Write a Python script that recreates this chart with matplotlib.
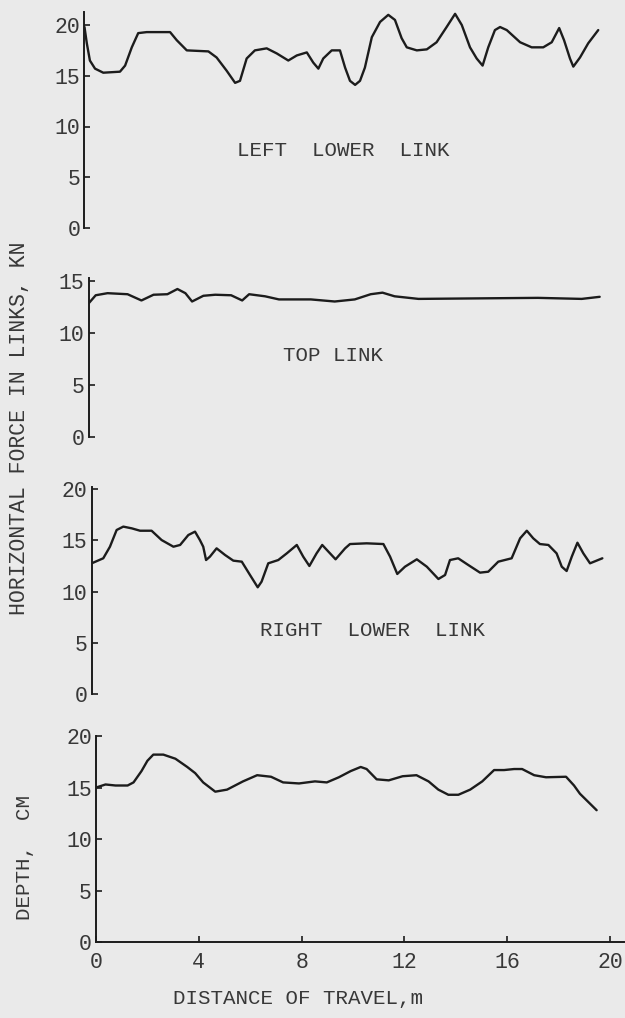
import matplotlib
matplotlib.use("Agg")
import matplotlib.pyplot as plt

# horizontal force in the left lower link, kN
left_x = [0, 0.09, 0.21, 0.41, 0.73, 1.38, 1.58, 1.84, 2.09, 2.42, 3.33, 3.59, 3.98, 4.82,
          5.14, 5.53, 5.86, 6.05, 6.31, 6.63, 7.09, 7.48, 7.93, 8.26, 8.65, 8.90, 9.10,
          9.29, 9.62, 9.94, 10.14, 10.33, 10.53, 10.72, 10.91, 11.18, 11.50, 11.82, 12.08,
          12.34, 12.54, 12.93, 13.32, 13.70, 14.09, 14.42, 14.68, 15.00, 15.26, 15.49,
          15.71, 15.97, 16.17, 16.43, 16.95, 17.40, 17.85, 18.18, 18.47, 18.66, 18.89,
          19.02, 19.28, 19.60, 19.99]
left_force = [19.8, 18.2, 16.5, 15.7, 15.3, 15.4, 16.0, 17.8, 19.2, 19.3, 19.3, 18.5, 17.5,
              17.4, 16.8, 15.5, 14.3, 14.5, 16.7, 17.5, 17.7, 17.2, 16.5, 17.0, 17.3, 16.3,
              15.7, 16.7, 17.5, 17.5, 15.8, 14.5, 14.1, 14.5, 15.8, 18.8, 20.3, 21.0, 20.5,
              18.7, 17.8, 17.5, 17.6, 18.3, 19.8, 21.1, 20.0, 17.8, 16.7, 16.0, 17.8, 19.5,
              19.8, 19.5, 18.3, 17.8, 17.8, 18.3, 19.7, 18.5, 16.7, 15.9, 16.8, 18.2, 19.5]

# top link
top_x = [0, 0.28, 0.74, 1.52, 2.06, 2.53, 3.07, 3.46, 3.77, 4.03, 4.47, 4.93, 5.55, 5.98,
         6.25, 6.87, 7.41, 8.65, 9.58, 10.36, 10.98, 11.44, 11.91, 12.84, 15.16, 17.49,
         19.19, 19.89]
top_force = [12.8, 13.6, 13.8, 13.7, 13.1, 13.65, 13.7, 14.2, 13.8, 13.0, 13.55, 13.65, 13.6,
             13.1, 13.7, 13.5, 13.2, 13.2, 13.0, 13.2, 13.7, 13.85, 13.5, 13.25, 13.3, 13.35,
             13.25, 13.45]

# right lower link
right_x = [0, 0.45, 0.71, 0.97, 1.23, 1.56, 1.88, 2.33, 2.72, 3.18, 3.44, 3.76, 4.02, 4.21,
           4.34, 4.45, 4.60, 4.86, 5.19, 5.51, 5.84, 6.16, 6.46, 6.61, 6.87, 7.26, 7.59,
           7.98, 8.23, 8.47, 8.75, 8.97, 9.21, 9.49, 9.86, 10.05, 10.70, 11.35, 11.61, 11.89,
           12.19, 12.65, 13.04, 13.49, 13.75, 13.94, 14.26, 14.65, 15.11, 15.43, 15.82,
           16.34, 16.67, 16.93, 17.18, 17.44, 17.77, 18.09, 18.29, 18.48, 18.68, 18.90,
           19.13, 19.39, 19.87]
right_force = [12.75, 13.24, 14.37, 16.0, 16.33, 16.16, 15.93, 15.93, 15.02, 14.37, 14.54,
               15.51, 15.84, 15.02, 14.37, 13.07, 13.40, 14.21, 13.56, 13.01, 12.91, 11.61,
               10.41, 10.96, 12.75, 13.07, 13.72, 14.54, 13.40, 12.49, 13.72, 14.54, 13.89,
               13.14, 14.21, 14.63, 14.70, 14.63, 13.40, 11.71, 12.42, 13.14, 12.42, 11.22,
               11.61, 13.07, 13.24, 12.59, 11.84, 11.93, 12.91, 13.24, 15.19, 15.93, 15.19,
               14.63, 14.54, 13.72, 12.42, 12.0, 13.40, 14.76, 13.72, 12.75, 13.24]

# working depth, cm
depth_x = [0, 0.37, 0.76, 1.23, 1.46, 1.77, 2.00, 2.23, 2.62, 3.09, 3.55, 3.86, 4.17, 4.64,
           5.10, 5.72, 6.27, 6.81, 7.28, 7.90, 8.52, 8.98, 9.45, 9.91, 10.30, 10.53, 10.92,
           11.39, 11.93, 12.47, 12.94, 13.32, 13.71, 14.10, 14.56, 15.03, 15.49, 15.88,
           16.27, 16.58, 17.05, 17.51, 18.29, 18.60, 18.83, 19.48]
depth_cm = [15.0, 15.3, 15.2, 15.2, 15.5, 16.6, 17.6, 18.2, 18.2, 17.8, 17.0, 16.4, 15.5,
            14.6, 14.8, 15.6, 16.2, 16.05, 15.5, 15.4, 15.6, 15.5, 16.0, 16.6, 17.0, 16.8,
            15.8, 15.7, 16.1, 16.2, 15.6, 14.8, 14.3, 14.3, 14.8, 15.6, 16.7, 16.7, 16.8,
            16.8, 16.2, 16.0, 16.05, 15.2, 14.4, 12.8]

x_ticks = [0, 4, 8, 12, 16, 20]

W, H = 625, 1018
PX_PER_M = 25.7
X_MAX = 20.55
INK = "#1c1c1c"
TEXT = "#383838"
PAPER = "#eaeaea"
FONT = "Liberation Mono"

plt.rcParams["font.family"] = [FONT, "DejaVu Sans"]

fig = plt.figure(figsize=(W / 100, H / 100), dpi=100, facecolor=PAPER)


def make_panel(left, zero_y, px_per_unit, top, yticks, show_x=False):
    # place the axes in pixel terms so each strip keeps its own offset
    bottom = (H - zero_y) / H
    height = top * px_per_unit / H
    ax = fig.add_axes([left / W, bottom, X_MAX * PX_PER_M / W, height])
    ax.set_facecolor("none")
    ax.set_xlim(0, X_MAX)
    ax.set_ylim(0, top)
    for side in ["top", "right"]:
        ax.spines[side].set_visible(False)
    ax.spines["left"].set_linewidth(1.4)
    ax.spines["left"].set_color(INK)
    ax.set_yticks(yticks)
    ax.tick_params(axis="y", direction="in", length=4, width=1.2, color=INK,
                   labelsize=15.5, labelcolor=TEXT, pad=3)
    if show_x:
        ax.spines["bottom"].set_linewidth(1.4)
        ax.spines["bottom"].set_color(INK)
        ax.set_xticks(x_ticks)
        ax.tick_params(axis="x", direction="in", length=4, width=1.2, color=INK,
                       labelsize=15.5, labelcolor=TEXT, pad=7)
    else:
        ax.spines["bottom"].set_visible(False)
        ax.set_xticks([])
    return ax


def trace(ax, x, y):
    ax.plot(x, y, color=INK, lw=1.7, solid_joinstyle="round", solid_capstyle="round")


ax1 = make_panel(84.5, 228, 10.15, 21.3, [0, 5, 10, 15, 20])
trace(ax1, left_x, left_force)

ax2 = make_panel(88.5, 436.7, 10.4, 15.3, [0, 5, 10, 15])
trace(ax2, top_x, top_force)

ax3 = make_panel(91.7, 694, 10.25, 20.2, [0, 5, 10, 15, 20])
trace(ax3, right_x, right_force)

ax4 = make_panel(96, 942, 10.4, 19.8, [0, 5, 10, 15, 20], show_x=True)
trace(ax4, depth_x, depth_cm)


def label(x, y, s, size=15, **kw):
    fig.text(x / W, 1 - y / H, s, ha="center", va="center", color=TEXT,
             fontsize=size, **kw)


label(343, 150, "LEFT  LOWER  LINK")
label(333, 355, "TOP LINK")
label(373, 630, "RIGHT  LOWER  LINK")
label(20, 428, "HORIZONTAL FORCE IN LINKS, KN", size=15.5, rotation=90)
label(25, 858, "DEPTH,  CM", rotation=90)
label(298, 998, "DISTANCE OF TRAVEL,m")

fig.savefig("out.png", dpi=100, facecolor=PAPER)
